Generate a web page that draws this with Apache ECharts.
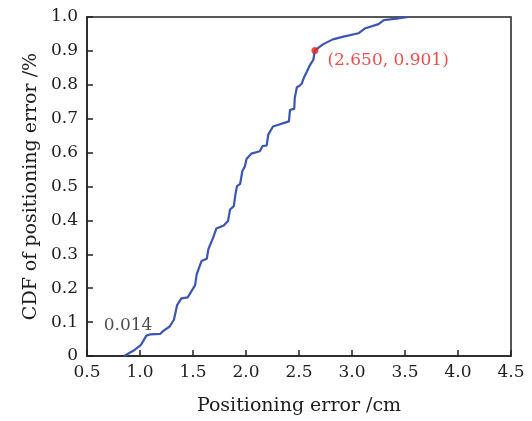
<!DOCTYPE html>
<html>
<head>
<meta charset="utf-8">
<script src="https://cdn.jsdelivr.net/npm/echarts@6/dist/echarts.min.js"></script>
<style>html,body{margin:0;padding:0;background:#fff}#c{width:532px;height:421px}</style>
</head>
<body>
<div id="c"></div>
<script>
// CDF curve: positioning error (cm) and cumulative probability
var errorX = [0.85, 0.94, 1.01, 1.06, 1.10, 1.19, 1.22, 1.28, 1.32, 1.35, 1.39, 1.45, 1.52, 1.535, 1.58, 1.63, 1.645, 1.69, 1.72, 1.79, 1.83, 1.85, 1.885, 1.90, 1.915, 1.945, 1.965, 1.975, 1.99, 2.005, 2.05, 2.13, 2.155, 2.195, 2.21, 2.255, 2.405, 2.415, 2.455, 2.46, 2.48, 2.505, 2.525, 2.545, 2.575, 2.605, 2.635, 2.65, 2.70, 2.73, 2.82, 2.92, 3.06, 3.12, 3.25, 3.30, 3.42, 3.53];
var cdfY   = [0.0, 0.016, 0.033, 0.060, 0.064, 0.065, 0.074, 0.087, 0.107, 0.150, 0.170, 0.173, 0.209, 0.241, 0.280, 0.287, 0.315, 0.349, 0.376, 0.385, 0.398, 0.432, 0.442, 0.476, 0.501, 0.508, 0.545, 0.548, 0.560, 0.581, 0.597, 0.604, 0.619, 0.621, 0.653, 0.677, 0.692, 0.726, 0.729, 0.761, 0.793, 0.797, 0.803, 0.820, 0.839, 0.859, 0.874, 0.901, 0.913, 0.920, 0.934, 0.942, 0.952, 0.966, 0.979, 0.991, 0.995, 1.0];
var markedPoint = [2.650, 0.901];
var markedLabel = '(2.650, 0.901)';
var lowNote = [0.887, 0.091];
var lowNoteLabel = '0.014';
var xTicks = ['0.5','1.0','1.5','2.0','2.5','3.0','3.5','4.0','4.5'];
var yTicks = ['0','0.1','0.2','0.3','0.4','0.5','0.6','0.7','0.8','0.9','1.0'];

var curve = errorX.map(function (x, i) { return [x, cdfY[i]]; });
var font = 'DejaVu Serif';
var txt = '#1e1e1e';

var chart = echarts.init(document.getElementById('c'));
chart.setOption({
  animation: false,
  backgroundColor: '#fff',
  grid: { left: 87, right: 21, top: 17, bottom: 64, show: true, borderColor: '#222', borderWidth: 1.5, backgroundColor: 'transparent' },
  xAxis: {
    type: 'value', min: 0.5, max: 4.5, interval: 0.5,
    name: 'Positioning error /cm', nameLocation: 'middle', nameGap: 41,
    nameTextStyle: { fontFamily: font, fontSize: 19, color: txt },
    axisLine: { show: true, lineStyle: { color: '#222', width: 1.5 } },
    axisTick: { show: true, inside: true, length: 6, lineStyle: { color: '#222', width: 1.5 } },
    axisLabel: { fontFamily: font, fontSize: 17, color: txt, margin: 8,
      formatter: function (v) { var i = Math.round((v - 0.5) / 0.5); return xTicks[i] || ''; } },
    splitLine: { show: false }
  },
  yAxis: {
    type: 'value', min: 0, max: 1, interval: 0.1,
    name: 'CDF of positioning error /%', nameLocation: 'middle', nameGap: 45,
    nameTextStyle: { fontFamily: font, fontSize: 19, color: txt },
    axisLine: { show: true, lineStyle: { color: '#222', width: 1.5 } },
    axisTick: { show: true, inside: true, length: 6, lineStyle: { color: '#222', width: 1.5 } },
    axisLabel: { fontFamily: font, fontSize: 17, color: txt, margin: 9,
      formatter: function (v) { var i = Math.round(v / 0.1); return yTicks[i] || ''; } },
    splitLine: { show: false }
  },
  series: [
    { type: 'line', data: curve, showSymbol: false, symbol: 'none', smooth: false,
      lineStyle: { color: '#3a55b4', width: 2.2 }, z: 2 },
    { type: 'scatter', data: [markedPoint], symbolSize: 7, itemStyle: { color: '#e8201f' }, z: 3,
      label: { show: true, position: 'right', offset: [4, 10], formatter: markedLabel,
        fontFamily: font, fontSize: 17, color: '#e8201f' } },
    { type: 'scatter', data: [lowNote], symbolSize: 0, z: 3,
      label: { show: true, position: 'inside', formatter: lowNoteLabel,
        fontFamily: font, fontSize: 17, color: txt } }
  ]
});
</script>
</body>
</html>
